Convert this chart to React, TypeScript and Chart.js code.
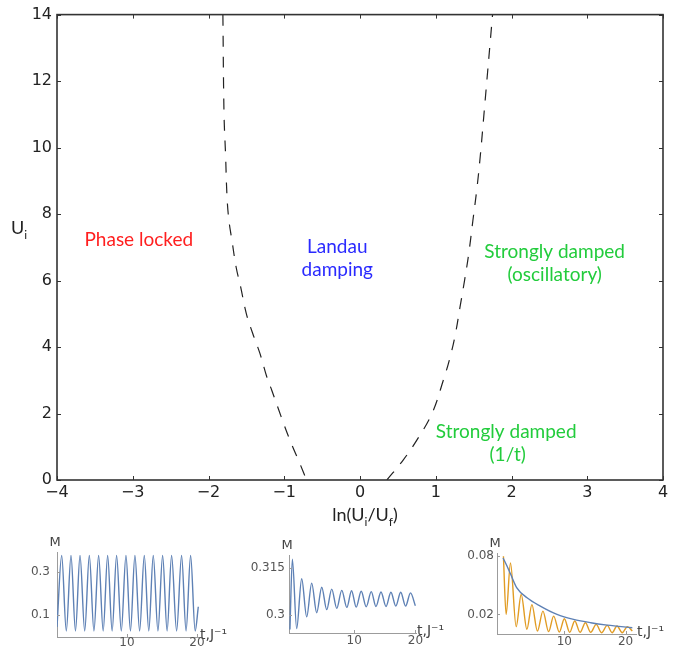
import React, { useEffect, useRef } from 'react';
import { Chart, registerables } from 'chart.js';

Chart.register(...registerables);

// ---------- main phase diagram ----------
const xTickValues = [-4, -3, -2, -1, 0, 1, 2, 3, 4];
const yTickValues = [0, 2, 4, 6, 8, 10, 12, 14];

const leftBoundaryX = [-1.81, -1.795, -1.775, -1.755, -1.73, -1.69, -1.635, -1.575, -1.5, -1.415, -1.32, -1.23, -1.165, -1.04, -0.925, -0.795, -0.705];
const leftBoundaryY = [14, 11, 9.8, 8.5, 7.8, 7.2, 6.4, 5.8, 5.0, 4.4, 3.8, 3.1, 2.7, 1.9, 1.2, 0.5, 0];
const rightBoundaryX = [0.355, 0.57, 0.75, 0.95, 1.1, 1.19, 1.26, 1.32, 1.38, 1.435, 1.49, 1.545, 1.59, 1.64, 1.75];
const rightBoundaryY = [0, 0.6, 1.2, 2.0, 3.0, 3.7, 4.4, 5.2, 6.0, 6.8, 7.8, 8.8, 9.8, 11.1, 14];

const regionTexts = ['Phase locked', 'Landau', 'damping', 'Strongly damped', '(oscillatory)', 'Strongly damped', '(1/t)'];
const regionX = [-2.92, -0.3, -0.3, 2.57, 2.57, 1.93, 1.95];
const regionY = [7.03, 6.82, 6.13, 6.67, 5.98, 1.26, 0.57];
const regionColors = ['#ff1f1f', '#2a2aff', '#2a2aff', '#22cc3c', '#22cc3c', '#22cc3c', '#22cc3c'];

// ---------- inset 1: phase locked ----------
const inset1T = [0, 0.67, 1.33, 2.0, 2.64, 3.29, 3.96, 4.62, 5.28, 5.95, 6.6, 7.24, 7.88, 8.52, 9.19, 9.86, 10.5, 11.14, 11.81, 12.48, 13.12, 13.76, 14.43, 15.1, 15.74, 16.38, 17.1, 17.81, 18.45, 19.1, 19.75, 20.2];
const inset1M = [0.046, 0.377, 0.028, 0.377, 0.028, 0.377, 0.028, 0.377, 0.028, 0.377, 0.028, 0.377, 0.028, 0.377, 0.028, 0.377, 0.028, 0.377, 0.028, 0.377, 0.028, 0.377, 0.028, 0.377, 0.028, 0.377, 0.028, 0.377, 0.028, 0.377, 0.028, 0.14];
const inset1XTicks = [10, 20];
const inset1YTicks = [0.1, 0.3];
const inset1YLabels = ['0.1', '0.3'];

// ---------- inset 2: Landau damping ----------
const inset2T = [-0.5, -0.1, 0.6, 1.42, 2.24, 3.06, 3.87, 4.7, 5.51, 6.33, 7.15, 7.97, 8.8, 9.57, 10.33, 11.15, 11.97, 12.79, 13.56, 14.38, 15.2, 16.0, 16.8, 17.6, 18.4, 19.2, 20.0];
const inset2M = [0.2955, 0.3178, 0.2958, 0.3116, 0.2995, 0.3102, 0.3008, 0.3089, 0.3018, 0.3083, 0.3022, 0.3079, 0.3025, 0.3078, 0.3026, 0.3076, 0.3027, 0.3075, 0.3028, 0.3074, 0.3028, 0.3073, 0.3029, 0.3073, 0.3029, 0.3071, 0.303];
const inset2XTicks = [10, 20];
const inset2YTicks = [0.3, 0.315];
const inset2YLabels = ['0.3', '0.315'];

// ---------- inset 3: strongly damped ----------
const inset3BlueT = [0.0, 0.65, 1.2, 2.24, 3.9, 6.07, 8.8, 11.5, 14.3, 17.0, 21.1];
const inset3BlueM = [0.0776, 0.0692, 0.0615, 0.0471, 0.037, 0.0285, 0.02, 0.0149, 0.0115, 0.0091, 0.0064];
const inset3OrangeT = [0.05, 0.49, 1.2, 2.13, 2.95, 3.88, 4.7, 5.6, 6.5, 7.43, 8.25, 9.18, 10.0, 10.87, 11.7, 12.57, 13.44, 14.3, 15.2, 16.07, 17.0, 17.8, 18.6, 19.45, 20.3, 21.1];
const inset3OrangeM = [0.0793, 0.02, 0.0725, 0.0075, 0.0403, 0.0048, 0.03, 0.003, 0.0234, 0.0024, 0.0183, 0.002, 0.0156, 0.0017, 0.0133, 0.0017, 0.0115, 0.0017, 0.0098, 0.0013, 0.0088, 0.0013, 0.0081, 0.0013, 0.0075, 0.003];
const inset3XTicks = [10, 20];
const inset3YTicks = [0.02, 0.08];
const inset3YLabels = ['0.02', '0.08'];

const toPts = (xs: number[], ys: number[]) => xs.map((x, i) => ({ x, y: ys[i] }));

type Part = { s: string; sub?: boolean };
function drawRich(ctx: CanvasRenderingContext2D, parts: Part[], x: number, y: number, center: boolean, big: string, small: string, subDy: number) {
  let w = 0;
  parts.forEach((p) => { ctx.font = p.sub ? small : big; w += ctx.measureText(p.s).width; });
  let cx = center ? x - w / 2 : x;
  ctx.textAlign = 'left';
  ctx.textBaseline = 'alphabetic';
  parts.forEach((p) => {
    ctx.font = p.sub ? small : big;
    ctx.fillText(p.s, cx, p.sub ? y + subDy : y);
    cx += ctx.measureText(p.s).width;
  });
}

function MainChart() {
  const ref = useRef<HTMLCanvasElement | null>(null);
  useEffect(() => {
    const canvas = ref.current!;
    const decor = {
      id: 'mainDecor',
      afterDraw(chart: any) {
        const { ctx, chartArea: a, scales } = chart;
        const xs = scales.x, ys = scales.y;
        ctx.save();
        ctx.strokeStyle = '#333';
        ctx.lineWidth = 1.6;
        ctx.strokeRect(a.left, a.top, a.right - a.left, a.bottom - a.top);
        ctx.lineWidth = 1;
        ctx.beginPath();
        xTickValues.forEach((v) => {
          const px = Math.round(xs.getPixelForValue(v)) + 0.5;
          ctx.moveTo(px, a.bottom); ctx.lineTo(px, a.bottom - 4);
          ctx.moveTo(px, a.top); ctx.lineTo(px, a.top + 4);
        });
        yTickValues.forEach((v) => {
          const py = Math.round(ys.getPixelForValue(v)) + 0.5;
          ctx.moveTo(a.left, py); ctx.lineTo(a.left + 4, py);
          ctx.moveTo(a.right, py); ctx.lineTo(a.right - 4, py);
        });
        ctx.stroke();
        // region labels
        ctx.font = '19px Lato';
        ctx.textAlign = 'center';
        ctx.textBaseline = 'alphabetic';
        regionTexts.forEach((t, i) => {
          ctx.fillStyle = regionColors[i];
          ctx.fillText(t, xs.getPixelForValue(regionX[i]), ys.getPixelForValue(regionY[i]));
        });
        // axis titles
        ctx.fillStyle = '#222';
        drawRich(ctx, [{ s: 'ln(U' }, { s: 'i', sub: true }, { s: '/U' }, { s: 'f', sub: true }, { s: ')' }],
          (a.left + a.right) / 2 + 5, a.bottom + 41, true, '18px Lato', '12px Lato', 5);
        drawRich(ctx, [{ s: 'U' }, { s: 'i', sub: true }], 11, 234, false, '18px Lato', '12px Lato', 5);
        ctx.restore();
      },
    };
    const lineStyle = {
      showLine: true,
      borderColor: '#222',
      borderWidth: 1.2,
      borderDash: [11, 10],
      pointRadius: 0,
      tension: 0.4,
      fill: false,
    };
    const chart = new Chart(canvas, {
      type: 'scatter',
      data: {
        datasets: [
          { data: toPts(leftBoundaryX, leftBoundaryY), ...lineStyle },
          { data: toPts(rightBoundaryX, rightBoundaryY), ...lineStyle },
        ],
      },
      options: {
        animation: false,
        responsive: false,
        maintainAspectRatio: false,
        layout: { padding: { top: 12, right: 17, left: 0, bottom: 0 } },
        plugins: { legend: { display: false }, tooltip: { enabled: false } },
        scales: {
          x: {
            type: 'linear',
            min: -4,
            max: 4,
            afterBuildTicks: (s: any) => { s.ticks = xTickValues.map((v) => ({ value: v })); },
            afterFit: (s: any) => { s.height = 50; },
            grid: { display: false, drawTicks: false },
            border: { display: false },
            ticks: {
              autoSkip: false,
              maxRotation: 0,
              padding: 3,
              color: '#222',
              font: { family: 'DejaVu Sans', size: 16 },
              callback: (v: any) => (Number(v) < 0 ? '\u2212' + Math.abs(Number(v)) : String(v)),
            },
          },
          y: {
            type: 'linear',
            min: 0,
            max: 14,
            afterBuildTicks: (s: any) => { s.ticks = yTickValues.map((v) => ({ value: v })); },
            afterFit: (s: any) => { s.width = 57; },
            grid: { display: false, drawTicks: false },
            border: { display: false },
            ticks: {
              autoSkip: false,
              padding: 5,
              color: '#222',
              font: { family: 'DejaVu Sans', size: 16 },
              callback: (v: any) => String(v),
            },
          },
        },
      },
      plugins: [decor],
    } as any);
    return () => chart.destroy();
  }, []);
  return (
    <canvas ref={ref} width={680} height={530}
      style={{ position: 'absolute', left: 0, top: 0, width: 680, height: 530 }} />
  );
}

type Series = { t: number[]; m: number[]; color: string };
type InsetProps = {
  left: number; top: number; width: number; height: number;
  padTop: number; padRight: number; yAxisW: number; xAxisH: number;
  xMin: number; xMax: number; yMin: number; yMax: number;
  xTicks: number[]; yTicks: number[]; yLabels: string[];
  yLabelPad: number; xLabelPad: number;
  series: Series[];
};

function InsetChart(p: InsetProps) {
  const ref = useRef<HTMLCanvasElement | null>(null);
  useEffect(() => {
    const canvas = ref.current!;
    const axisColor = '#9c9c9c';
    const decor = {
      id: 'insetDecor',
      afterDraw(chart: any) {
        const { ctx, chartArea: a, scales } = chart;
        ctx.save();
        ctx.strokeStyle = axisColor;
        ctx.lineWidth = 1;
        ctx.beginPath();
        p.xTicks.forEach((v) => {
          const px = Math.round(scales.x.getPixelForValue(v)) + 0.5;
          ctx.moveTo(px, a.bottom); ctx.lineTo(px, a.bottom - 3);
        });
        p.yTicks.forEach((v) => {
          const py = Math.round(scales.y.getPixelForValue(v)) + 0.5;
          ctx.moveTo(a.left, py); ctx.lineTo(a.left + 3, py);
        });
        ctx.stroke();
        ctx.fillStyle = '#444';
        ctx.font = '13px DejaVu Sans';
        ctx.textAlign = 'center';
        ctx.textBaseline = 'alphabetic';
        ctx.fillText('M', a.left - 2, a.top - 6);
        ctx.textAlign = 'left';
        ctx.font = '14px DejaVu Sans';
        ctx.fillText('t,J\u207B\u00B9', a.right + 1, a.bottom + 2);
        ctx.restore();
      },
    };
    const chart = new Chart(canvas, {
      type: 'scatter',
      data: {
        datasets: p.series.map((s) => ({
          data: toPts(s.t, s.m),
          showLine: true,
          borderColor: s.color,
          borderWidth: 1.4,
          pointRadius: 0,
          cubicInterpolationMode: 'monotone',
          fill: false,
        })),
      },
      options: {
        animation: false,
        responsive: false,
        maintainAspectRatio: false,
        layout: { padding: { top: p.padTop, right: p.padRight, left: 0, bottom: 0 } },
        plugins: { legend: { display: false }, tooltip: { enabled: false } },
        scales: {
          x: {
            type: 'linear',
            min: p.xMin,
            max: p.xMax,
            afterBuildTicks: (s: any) => { s.ticks = p.xTicks.map((v) => ({ value: v })); },
            afterFit: (s: any) => { s.height = p.xAxisH; },
            grid: { display: false, drawTicks: false },
            border: { display: true, color: axisColor, width: 1 },
            ticks: {
              autoSkip: false,
              maxRotation: 0,
              padding: p.xLabelPad,
              color: '#555',
              font: { family: 'DejaVu Sans', size: 12 },
              callback: (v: any) => String(v),
            },
          },
          y: {
            type: 'linear',
            min: p.yMin,
            max: p.yMax,
            afterBuildTicks: (s: any) => { s.ticks = p.yTicks.map((v) => ({ value: v })); },
            afterFit: (s: any) => { s.width = p.yAxisW; },
            grid: { display: false, drawTicks: false },
            border: { display: true, color: axisColor, width: 1 },
            ticks: {
              autoSkip: false,
              padding: p.yLabelPad,
              color: '#555',
              font: { family: 'DejaVu Sans', size: 12 },
              callback: (v: any) => {
                const i = p.yTicks.indexOf(Number(v));
                return i >= 0 ? p.yLabels[i] : '';
              },
            },
          },
        },
      },
      plugins: [decor],
    } as any);
    return () => chart.destroy();
  }, []);
  return (
    <canvas ref={ref} width={p.width} height={p.height}
      style={{ position: 'absolute', left: p.left, top: p.top, width: p.width, height: p.height }} />
  );
}

export default function App() {
  return (
    <div style={{ position: 'absolute', left: 0, top: 0, width: 680, height: 655, background: '#fff', overflow: 'hidden' }}>
      <MainChart />
      <InsetChart
        left={0} top={530} width={240} height={125}
        padTop={22} padRight={41} yAxisW={57} xAxisH={18}
        xMin={0} xMax={20.3} yMin={0} yMax={0.393}
        xTicks={inset1XTicks} yTicks={inset1YTicks} yLabels={inset1YLabels}
        yLabelPad={7} xLabelPad={-1}
        series={[{ t: inset1T, m: inset1M, color: '#5e81b5' }]}
      />
      <InsetChart
        left={230} top={530} width={230} height={125}
        padTop={25} padRight={44} yAxisW={59} xAxisH={22}
        xMin={-0.65} xMax={20.1} yMin={0.2944} yMax={0.3191}
        xTicks={inset2XTicks} yTicks={inset2YTicks} yLabels={inset2YLabels}
        yLabelPad={4} xLabelPad={1}
        series={[{ t: inset2T, m: inset2M, color: '#5e81b5' }]}
      />
      <InsetChart
        left={440} top={530} width={240} height={125}
        padTop={23} padRight={44} yAxisW={57} xAxisH={21}
        xMin={-1} xMax={21.7} yMin={0} yMax={0.0827}
        xTicks={inset3XTicks} yTicks={inset3YTicks} yLabels={inset3YLabels}
        yLabelPad={3} xLabelPad={1}
        series={[
          { t: inset3BlueT, m: inset3BlueM, color: '#5e81b5' },
          { t: inset3OrangeT, m: inset3OrangeM, color: '#e19c24' },
        ]}
      />
    </div>
  );
}
